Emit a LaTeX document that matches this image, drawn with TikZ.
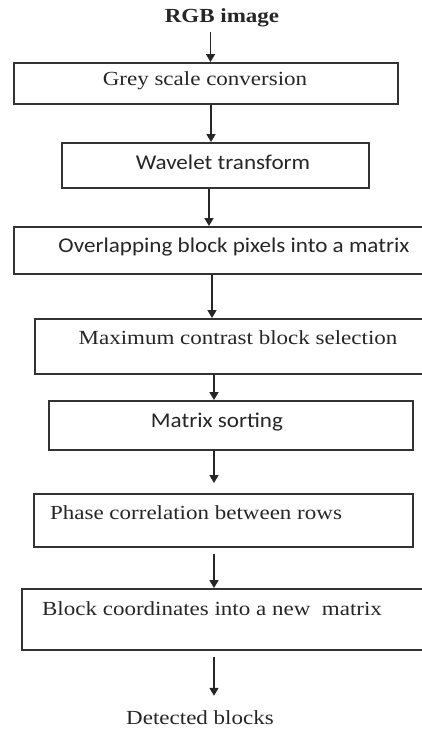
\documentclass[tikz,border=0pt]{standalone}
\usepackage{fontspec}
\usepackage{graphicx}
\setmainfont{Liberation Serif}
\newfontfamily\calfont{Carlito}
\usetikzlibrary{arrows.meta}

% horizontally widened text, serif and sans variants
\newcommand{\sertext}[1]{\scalebox{1.15}[1]{\fontsize{20}{24}\selectfont #1}}
\newcommand{\santext}[1]{\scalebox{1.1}[1]{\fontsize{21}{25}\selectfont\calfont #1}}

\tikzset{
  boxframe/.style={draw=black!80, line width=1.6pt, inner sep=0pt},
  lbl/.style={inner sep=0pt, text=black!85},
  arr/.style={draw=black!85, line width=1.7pt, -{Triangle[width=9pt,length=8pt]}},
}

\newcommand{\boxat}[5]{% name, left, top, right, bottom
  \node[boxframe, anchor=north west, minimum width={(#4-#2)*1pt}, minimum height={(#5-#3)*1pt}] (#1) at (#2,#3) {};}

\begin{document}
\begin{tikzpicture}[x=1pt,y=-1pt]
  \useasboundingbox (0,0) rectangle (422,729);
  \begin{scope}
    \clip (0,0) rectangle (422,729);

    % process boxes
    \boxat{b1}{13}{62}{397}{103}
    \boxat{b2}{61}{142}{368}{187}
    \boxat{b3}{13}{226}{440}{273}
    \boxat{b4}{34}{318}{440}{373}
    \boxat{b5}{48}{400}{412}{449}
    \boxat{b6}{33}{493}{412}{546}
    \boxat{b7}{21}{588}{440}{649}

    % labels
    \node[lbl] (tin) at (222,18) {\sertext{\textbf{RGB image}}};
    \node[lbl] (t1) at (205,81) {\sertext{Grey scale conversion}};
    \node[lbl] (t2) at (223,162) {\santext{Wavelet transform}};
    \node[lbl] (t3) at (234,247) {\santext{Overlapping block pixels into a matrix}};
    \node[lbl] (t4) at (238,338) {\sertext{Maximum contrast block selection}};
    \node[lbl] (t5) at (217,422) {\santext{Matrix sorting}};
    \node[lbl] (t6) at (196,513) {\sertext{Phase correlation between rows}};
    \node[lbl] (t7) at (212,609) {\sertext{Block coordinates into a new\ \ matrix}};
    \node[lbl] (tout) at (200,718) {\sertext{Detected blocks}};

    % arrow columns
    \coordinate (c1) at (210.5,0);
    \coordinate (c2) at (211,0);
    \coordinate (c3) at (209,0);
    \coordinate (c4) at (212,0);
    \coordinate (c5) at (214,0);

    % connectors
    \draw[arr] (tin.south -| c1) ++(0,5) -- (b1.north -| c1);
    \draw[arr] (b1.south -| c2) -- (b2.north -| c2);
    \draw[arr] (b2.south -| c3) -- (b3.north -| c3);
    \draw[arr] (b3.south -| c4) -- (b4.north -| c4);
    \draw[arr] (b4.south -| c5) -- (b5.north -| c5);
    \draw[arr, shorten >=10pt] (b5.south -| c5) -- (b6.north -| c5);
    \draw[arr, shorten <=6pt] (b6.south -| c5) -- (b7.north -| c5);
    \draw[arr, shorten <=6pt, shorten >=15pt] (b7.south -| c5) -- (tout.north -| c5);
  \end{scope}
\end{tikzpicture}
\end{document}
